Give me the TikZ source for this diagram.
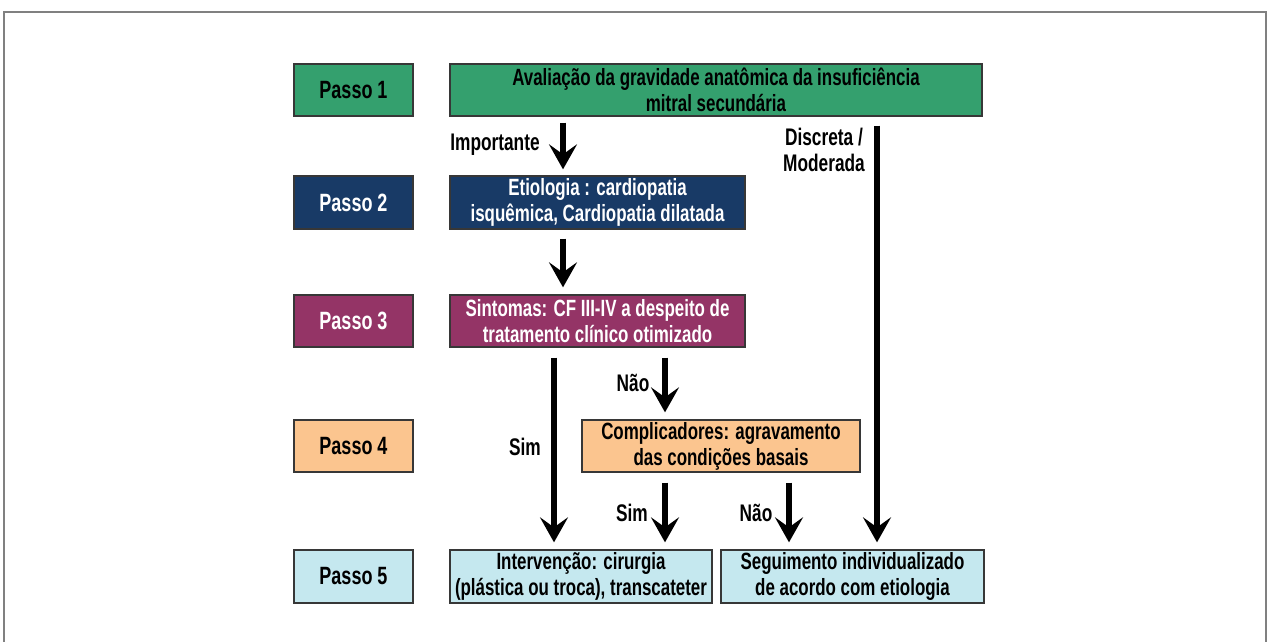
\documentclass[tikz,border=0pt]{standalone}
\usepackage{fontspec}
\setmainfont{Liberation Sans}[FakeStretch=0.72]
\usetikzlibrary{arrows.meta}
\definecolor{cgreen}{RGB}{52,160,110}
\definecolor{cnavy}{RGB}{24,58,102}
\definecolor{cpurple}{RGB}{148,52,102}
\definecolor{corange}{RGB}{251,197,143}
\definecolor{cblue}{RGB}{197,232,239}
\definecolor{cborder}{RGB}{55,55,55}
\begin{document}
\begin{tikzpicture}[x=1pt,y=-1pt,
  box/.style={draw=cborder,line width=1.3pt,rectangle,inner sep=0pt,align=center,
    font=\fontsize{23.5}{26}\selectfont\bfseries},
  stepbox/.style={box,minimum width=119pt,font=\fontsize{25}{26}\selectfont\bfseries},
  bigarrow/.style={line width=5.5pt,-{Stealth[length=25pt,width=28pt,inset=10pt]}},
  lbl/.style={font=\fontsize{24}{26}\selectfont\bfseries,align=center,inner sep=0pt}]
\useasboundingbox (0,0) rectangle (1270,642);
\draw[gray,line width=1.2pt] (4,642) -- (4,12) -- (1266,12) -- (1266,642);
% step column
\node[stepbox,fill=cgreen,minimum height=52pt] (P1) at (353.5,90) {Passo 1};
\node[stepbox,fill=cnavy,text=white,minimum height=53pt] (P2) at (353.5,202.5) {Passo 2};
\node[stepbox,fill=cpurple,text=white,minimum height=52pt] (P3) at (353.5,321) {Passo 3};
\node[stepbox,fill=corange,minimum height=52pt] (P4) at (353.5,446) {Passo 4};
\node[stepbox,fill=cblue,minimum height=53pt] (P5) at (353.5,576.5) {Passo 5};
% main boxes
\node[box,fill=cgreen,minimum width=532pt,minimum height=52pt] (B1) at (716,90)
  {Avaliação da gravidade anatômica da insuficiência\\mitral secundária};
\node[box,fill=cnavy,text=white,minimum width=295pt,minimum height=53pt] (B2) at (597.5,202.5)
  {Etiologia : cardiopatia\\isquêmica, Cardiopatia dilatada};
\node[box,fill=cpurple,text=white,minimum width=295pt,minimum height=52pt] (B3) at (597.5,321)
  {Sintomas: CF III-IV a despeito de\\tratamento clínico otimizado};
\node[box,fill=corange,minimum width=278pt,minimum height=52pt] (B4) at (721,446)
  {Complicadores: agravamento\\das condições basais};
\node[box,fill=cblue,minimum width=262pt,minimum height=53pt] (B5a) at (581,576.5)
  {Intervenção: cirurgia\\(plástica ou troca), transcateter};
\node[box,fill=cblue,minimum width=263pt,minimum height=53pt] (B5b) at (852.5,576.5)
  {Seguimento individualizado\\de acordo com etiologia};
% arrows
\draw[bigarrow,shorten <=6pt,shorten >=6pt] (B1.south -| 563,0) -- (B2.north -| 563,0);
\draw[bigarrow,shorten <=9pt,shorten >=7pt] (B2.south -| 563,0) -- (B3.north -| 563,0);
\draw[bigarrow,shorten <=9pt,shorten >=7pt] (B1.south -| 877,0) -- (B5b.north -| 877,0);
\draw[bigarrow,shorten <=10pt,shorten >=7pt] (B3.south -| 554,0) -- (B5a.north -| 554,0);
\draw[bigarrow,shorten <=10pt,shorten >=7pt] (B3.south -| 665,0) -- (B4.north -| 665,0);
\draw[bigarrow,shorten <=10pt,shorten >=7pt] (B4.south -| 665,0) -- (B5a.north -| 665,0);
\draw[bigarrow,shorten <=10pt,shorten >=7pt] (B4.south -| 789,0) -- (B5b.north -| 789,0);
% labels
\node[lbl] (LImp) at (495,145) {Importante};
\node[lbl] (LDis) at (824,150) {Discreta /\\Moderada};
\node[lbl] (LSim1) at (525,447) {Sim};
\node[lbl] (LNao1) at (633,383) {Não};
\node[lbl] (LSim2) at (632,513) {Sim};
\node[lbl] (LNao2) at (756,513) {Não};
\end{tikzpicture}
\end{document}
